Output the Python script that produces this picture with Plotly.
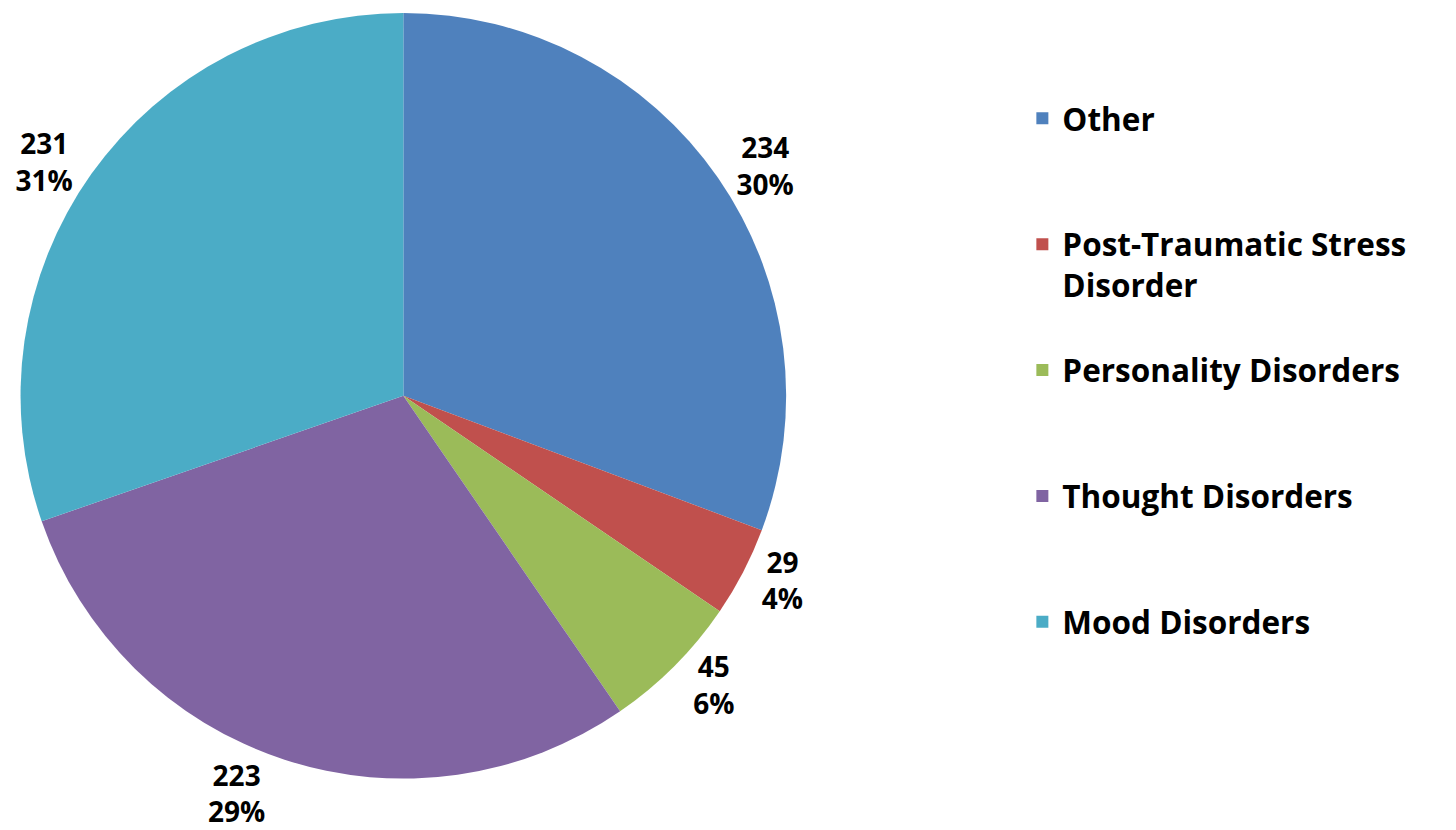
import plotly.graph_objects as go

# slice data (clockwise from 12 o'clock)
categories = ["Other", "Post-Traumatic Stress Disorder", "Personality Disorders",
              "Thought Disorders", "Mood Disorders"]
counts = [234, 29, 45, 223, 231]
pct_labels = ["30%", "4%", "6%", "29%", "31%"]
colors = ["#4F81BD", "#C0504D", "#9BBB59", "#8064A2", "#4BACC6"]

NBSP = "\u00a0"
# legend text padded with blank lines so items sit on the same spacing as the original
legend_labels = [
    "Other<br>" + NBSP + "<br>" + NBSP,
    "Post-Traumatic Stress<br>Disorder<br>" + NBSP,
    "Personality Disorders<br>" + NBSP + "<br>" + NBSP,
    "Thought Disorders<br>" + NBSP + "<br>" + NBSP,
    "Mood Disorders<br>" + NBSP + "<br>" + NBSP,
]

slice_text = [f"<b>{c}<br>{p}</b>" for c, p in zip(counts, pct_labels)]

pie = go.Pie(
    labels=legend_labels,
    values=counts,
    text=slice_text,
    textinfo="text",
    textposition="outside",
    sort=False,
    direction="clockwise",
    rotation=0,
    marker=dict(colors=colors, line=dict(width=0)),
    outsidetextfont=dict(family="Open Sans", size=28, color="black"),
    domain=dict(x=[0.002, 0.533], y=[0.072, 1.0]),
    hoverinfo="skip",
)

fig = go.Figure(data=[pie])
fig.update_layout(
    width=1456,
    height=830,
    margin=dict(l=0, r=0, t=0, b=0),
    paper_bgcolor="white",
    showlegend=True,
    legend=dict(
        x=0.695, y=0.905, xanchor="left", yanchor="top",
        valign="top",
        font=dict(family="Open Sans", size=31.5, color="black", weight="bold"),
    ),
)

fig.write_html("out.html")
